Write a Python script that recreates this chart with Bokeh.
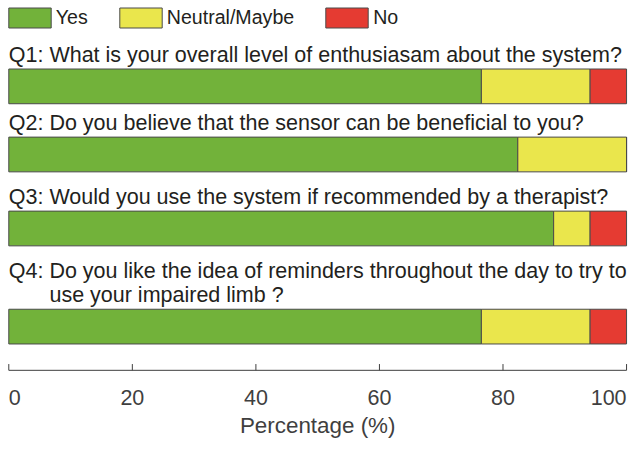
from bokeh.plotting import figure
from bokeh.models import ColumnDataSource, Range1d, Legend, LegendItem
from bokeh.core.properties import value
from bokeh.embed import file_html
from bokeh.resources import INLINE

# ---------------- data ----------------
questions = [
    ["Q1: What is your overall level of enthusiasam about the system?"],
    ["Q2: Do you believe that the sensor can be beneficial to you?"],
    ["Q3: Would you use the system if recommended by a therapist?"],
    ["Q4: Do you like the idea of reminders throughout the day to try to",
     "use your impaired limb ?"],
]
yes = [76.5, 82.4, 88.2, 76.5]
neutral = [17.6, 17.6, 5.9, 17.6]
no = [5.9, 0.0, 5.9, 5.9]
categories = ["Yes", "Neutral/Maybe", "No"]
ticks = [0, 20, 40, 60, 80, 100]
tick_labels = ["0", "20", "40", "60", "80", "100"]
x_label = "Percentage (%)"

# ---------------- layout / style ----------------
W, H = 628, 439
REF_W, REF_H = 644, 455          # vertical data units = reference pixel rows
sx = W / REF_W
x0_ref, x100_ref = 8.5, 642.0    # where 0 and 100 sit horizontally (ref px)
ppu = (x100_ref - x0_ref) * sx / 100.0
x_start = -x0_ref * sx / ppu
x_end = x_start + W / ppu

FONT = "Liberation Sans"
q_baseline = [62.7, 133.3, 210.0, 287.3]
line_step = 24.4
bar_gap = 8.3
bar_h = 36
axis_y = 383.3
tick_len = 6.5
tick_label_y = 418
axis_label_y = 447.3
q_font = 21.5
tick_font = 21.5
lab_font = 22.4
leg_font = 19.6
base_fix = -0.3                  # alphabetic baseline correction (em)
indent_px = 1.89 * q_font        # width of "Q4: "
colors = ["#72b23a", "#eae64c", "#e53b32"]
edge = "#4a4a4a"
text_dark = "#231f20"
text_gray = "#3f3f3f"

bar_y = [b + (len(q) - 1) * line_step + bar_gap + bar_h / 2
         for b, q in zip(q_baseline, questions)]

p = figure(width=W, height=H, output_backend="svg", toolbar_location=None,
           x_range=Range1d(x_start, x_end), y_range=Range1d(REF_H, 0),
           x_axis_location=None, y_axis_location=None, min_border=0,
           outline_line_color=None)
p.xgrid.visible = False
p.ygrid.visible = False

src = ColumnDataSource(dict(y=bar_y, yes=yes, neutral=neutral, no=no))
rs = p.hbar_stack(["yes", "neutral", "no"], y="y", height=bar_h, source=src,
                  color=colors, line_color=edge, line_width=1)

# question texts
tx, ty, tt, toff = [], [], [], []
for b, q in zip(q_baseline, questions):
    for i, line in enumerate(q):
        tx.append(0)
        ty.append(b + i * line_step)
        tt.append(line)
        toff.append(0 if i == 0 else indent_px)
p.text(x=tx, y=ty, text=tt, x_offset=toff, y_offset=base_fix * q_font,
       text_align="left", text_baseline="alphabetic", text_font=value(FONT),
       text_font_size=f"{q_font}px", text_color=text_dark)

# x axis drawn manually
p.segment(x0=[ticks[0]], x1=[ticks[-1]], y0=[axis_y], y1=[axis_y],
          line_color=text_gray, line_width=1)
p.segment(x0=ticks, x1=ticks, y0=[axis_y - tick_len] * len(ticks),
          y1=[axis_y] * len(ticks), line_color=text_gray, line_width=1)
aligns = ["left"] + ["center"] * (len(ticks) - 2) + ["right"]
lsrc = ColumnDataSource(dict(x=ticks, y=[tick_label_y] * len(ticks),
                             t=tick_labels, a=aligns))
p.text(x="x", y="y", text="t", text_align="a", source=lsrc,
       y_offset=base_fix * tick_font,
       text_baseline="alphabetic", text_font=value(FONT),
       text_font_size=f"{tick_font}px", text_color=text_gray)
p.text(x=[50], y=[axis_label_y], text=[x_label], text_align="center",
       y_offset=base_fix * lab_font,
       text_baseline="alphabetic", text_font=value(FONT),
       text_font_size=f"{lab_font}px", text_color=text_gray)

gw, gh = 53, 25
leg_left, leg_top = 2.8, 4.5
legend = Legend(items=[LegendItem(label=c, renderers=[r]) for c, r in zip(categories, rs)],
                orientation="horizontal", location=(leg_left, H - gh - leg_top),
                glyph_width=gw, glyph_height=gh, label_standoff=0, spacing=26,
                padding=0, margin=0, border_line_color=None,
                background_fill_alpha=0, label_text_font=FONT,
                label_text_font_size=f"{leg_font}px", label_text_color=text_dark)
p.add_layout(legend)

open("out.html", "w").write(file_html(p, INLINE))
